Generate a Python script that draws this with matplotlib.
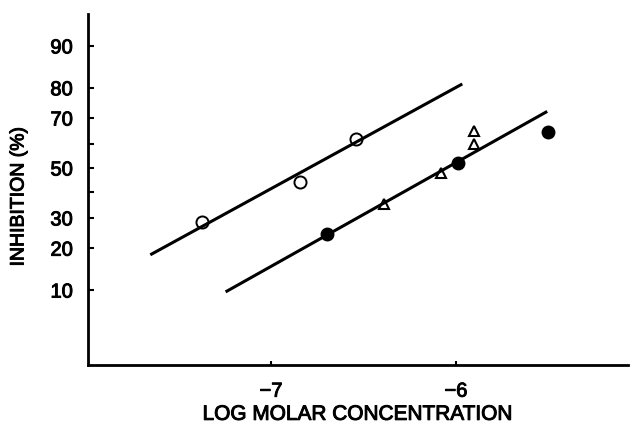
import numpy as np
import matplotlib
matplotlib.use("Agg")
import matplotlib.pyplot as plt
import matplotlib.patheffects as pe
from statistics import NormalDist

# values (x = log molar concentration, y = % inhibition)
open_x = [-7.373, -6.843, -6.541]
open_y = [28.4, 44.3, 61.8]
filled_x = [-6.699, -5.988, -5.501]
filled_y = [24.3, 52.0, 64.8]
tri_x = [-6.388, -6.083, -5.901, -5.901]
tri_y = [35.3, 48.0, 65.2, 59.9]
line1_x = [-7.645, -5.973]
line1_y = [18.3, 80.9]
line2_x = [-7.238, -5.514]
line2_y = [9.8, 72.1]

yticks = [10, 20, 30, 40, 50, 60, 70, 80, 90]
ylabels = ["10", "20", "30", "", "50", "", "70", "80", "90"]
xticks = [-7, -6]
xlabels = ["\u22127", "\u22126"]

# probability (probit) scale for the y axis
nd = NormalDist()
_ppf = np.vectorize(lambda v: nd.inv_cdf(v / 100.0), otypes=[float])
_cdf = np.vectorize(lambda v: nd.cdf(v) * 100.0, otypes=[float])

def fwd(p):
    p = np.clip(np.asarray(p, dtype=float), 0.01, 99.99)
    return _ppf(p)

def inv(z):
    return _cdf(np.asarray(z, dtype=float))

plt.rcParams['font.family'] = ['Liberation Sans', 'DejaVu Sans']

fig = plt.figure(figsize=(6.39, 4.23), dpi=100)
ax = fig.add_axes([88/639, 1-365/423, 540/639, 351/423])
ax.set_yscale('function', functions=(fwd, inv))

ax.plot(line1_x, line1_y, color='black', lw=2.2, zorder=3)
ax.plot(line2_x, line2_y, color='black', lw=2.2, zorder=3)
ax.plot(open_x, open_y, 'o', ms=8.7, mfc='none', mec='black', mew=1.4, zorder=4)
ax.plot(filled_x, filled_y, 'o', ms=9, mfc='black', mec='black', zorder=4)
ax.plot(tri_x, tri_y, '^', ms=7.8, mfc='none', mec='black', mew=1.5, zorder=4)

ax.set_xlim(-7.989, -5.070)
ax.set_ylim(1.93, 94.7)
ax.set_xticks(xticks)
ax.set_xticklabels(xlabels)
ax.set_yticks(yticks)
ax.set_yticklabels(ylabels)
ax.minorticks_off()

for s in ['top', 'right']:
    ax.spines[s].set_visible(False)
for s in ['left', 'bottom']:
    ax.spines[s].set_linewidth(2)

ax.tick_params(axis='y', direction='in', length=4, width=1.5, labelsize=14.5, pad=11)
ax.tick_params(axis='x', direction='in', length=3, width=1.5, labelsize=14.5, pad=12)
ax.set_xlabel("LOG MOLAR CONCENTRATION", fontsize=15, labelpad=3)
ax.set_ylabel("INHIBITION (%)", fontsize=14)
ax.yaxis.set_label_coords(-0.112, 0.48)

# slightly heavier type, like the printed original
heavy = [pe.withStroke(linewidth=0.7, foreground='black')]
for t in ax.get_xticklabels() + ax.get_yticklabels() + [ax.xaxis.label, ax.yaxis.label]:
    t.set_path_effects(heavy)

fig.savefig("out.png", dpi=100)
